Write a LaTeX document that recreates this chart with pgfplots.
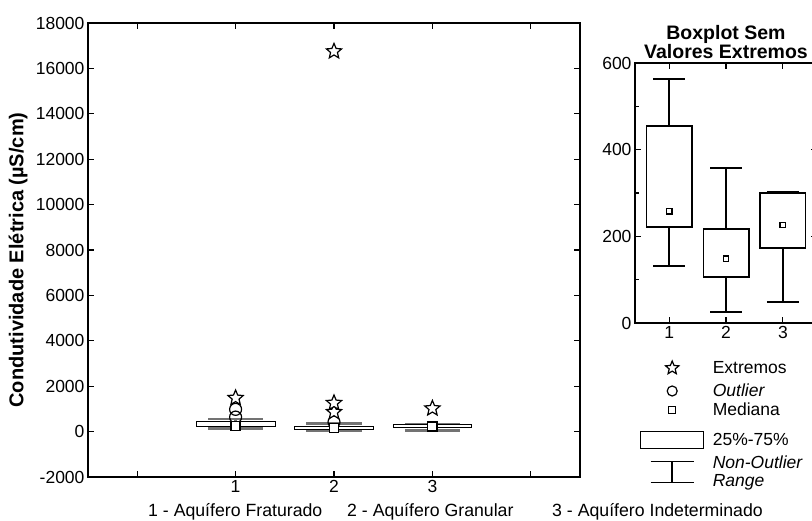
\documentclass[border=0pt]{standalone}
\usepackage{fontspec}
\setmainfont{Liberation Sans}
\usepackage{pgfplots}
\pgfplotsset{compat=1.18}
\pgfdeclareplotmark{ostar}{%
  \pgfpathmoveto{\pgfqpoint{0pt}{\pgfplotmarksize}}%
  \pgfpathlineto{\pgfqpoint{-0.2645\pgfplotmarksize}{0.364\pgfplotmarksize}}%
  \pgfpathlineto{\pgfqpoint{-0.951\pgfplotmarksize}{0.309\pgfplotmarksize}}%
  \pgfpathlineto{\pgfqpoint{-0.428\pgfplotmarksize}{-0.139\pgfplotmarksize}}%
  \pgfpathlineto{\pgfqpoint{-0.588\pgfplotmarksize}{-0.809\pgfplotmarksize}}%
  \pgfpathlineto{\pgfqpoint{0pt}{-0.45\pgfplotmarksize}}%
  \pgfpathlineto{\pgfqpoint{0.588\pgfplotmarksize}{-0.809\pgfplotmarksize}}%
  \pgfpathlineto{\pgfqpoint{0.428\pgfplotmarksize}{-0.139\pgfplotmarksize}}%
  \pgfpathlineto{\pgfqpoint{0.951\pgfplotmarksize}{0.309\pgfplotmarksize}}%
  \pgfpathlineto{\pgfqpoint{0.2645\pgfplotmarksize}{0.364\pgfplotmarksize}}%
  \pgfpathclose\pgfusepathqfillstroke}
\newcommand\fs{\fontsize{17.5}{18}\selectfont}
\pgfplotsset{
  mystyle/.style={
    scale only axis, axis line style={line width=2.4pt}, tick style={line width=1.2pt, black},
    major tick length=6pt, minor tick length=4pt,
    tick label style={font=\fs}, /pgf/number format/assume math mode=true,
    /pgf/number format/1000 sep={}, unbounded coords=jump,
  }
}
\begin{document}
\begin{tikzpicture}
\useasboundingbox (0pt,0pt) rectangle (812pt,520pt);
\begin{axis}[mystyle,
  at={(88pt,43pt)}, anchor=south west, width=492pt, height=454pt,
  xmin=-0.5, xmax=4.5, ymin=-2000, ymax=18000,
  xtick={0,1,2,3,4}, xticklabels={,1,2,3,},
  ytick={-2000,0,2000,4000,6000,8000,10000,12000,14000,16000,18000},
  scaled y ticks=false,
  ylabel={Condutividade Elétrica (µS/cm)},
  ylabel style={font=\fontsize{20}{20}\selectfont\bfseries, at={(axis description cs:-0.142,0.478)}, anchor=center},
]
% whiskers (grey, thick)
\addplot[draw=black!55, line width=2.5pt] coordinates {
 (1,455)(1,563) (1,nan) (0.72,563)(1.28,563) (1,nan) (1,222)(1,132) (1,nan) (0.72,132)(1.28,132)};
\addplot[draw=black!55, line width=2.5pt] coordinates {
 (2,217)(2,358) (2,nan) (1.72,358)(2.28,358) (2,nan) (2,106)(2,25) (2,nan) (1.72,25)(2.28,25)};
\addplot[draw=black!55, line width=2.5pt] coordinates {
 (3,300)(3,302) (3,nan) (2.72,302)(3.28,302) (3,nan) (3,173)(3,48) (3,nan) (2.72,48)(3.28,48)};
% boxes
\addplot[draw=black, fill=white, line width=0.8pt] coordinates {(0.6,222)(1.4,222)(1.4,455)(0.6,455)} -- cycle;
\addplot[draw=black, fill=white, line width=0.8pt] coordinates {(1.6,106)(2.4,106)(2.4,217)(1.6,217)} -- cycle;
\addplot[draw=black, fill=white, line width=0.8pt] coordinates {(2.6,173)(3.4,173)(3.4,300)(2.6,300)} -- cycle;
\addplot[only marks, mark=o, mark size=6pt, line width=1.2pt, mark options={fill=white}] coordinates {(1,640) (1,980) (2,420)};
\addplot[only marks, mark=ostar, mark size=8pt, line width=1.2pt, mark options={fill=white}] coordinates {(1,1480) (2,860) (2,1260) (2,16750) (3,1020)};
\addplot[only marks, mark=square*, mark size=4.5pt, line width=1.2pt, mark options={fill=white}] coordinates {(1,258) (2,148) (3,226)};
\end{axis}
\node[anchor=base west, font=\fontsize{17.7}{18}\selectfont, inner sep=0pt] at (148pt,4pt) {1 - Aquífero Fraturado};
\node[anchor=base west, font=\fontsize{17.7}{18}\selectfont, inner sep=0pt] at (347pt,4pt) {2 - Aquífero Granular};
\node[anchor=base west, font=\fontsize{17.7}{18}\selectfont, inner sep=0pt] at (552pt,4pt) {3 - Aquífero Indeterminado};
\begin{axis}[mystyle,
  at={(635pt,197pt)}, anchor=south west, width=182pt, height=260pt,
  xmin=0.4, xmax=3.6, ymin=0, ymax=600,
  xtick={1,2,3}, ytick={0,200,400,600}, minor ytick={100,300,500},
  axis line style={line width=2pt},
  title={Boxplot Sem\\Valores Extremos},
  title style={align=center, font=\fontsize{19.5}{17}\selectfont\bfseries, yshift=-5pt},
  legend style={at={(0.028,-0.1346)}, anchor=north west, draw=none, fill=none, font=\fs,
    inner sep=0pt, outer sep=0pt, row sep=0pt, column sep=8pt,
    cells={anchor=west, align=left}, nodes={inner sep=0.5pt}},
]
\addplot[forget plot, draw=black, line width=1.5pt] coordinates {
 (1,455)(1,563) (1,nan) (0.72,563)(1.28,563) (1,nan) (1,222)(1,132) (1,nan) (0.72,132)(1.28,132)};
\addplot[forget plot, draw=black, line width=1.5pt] coordinates {
 (2,217)(2,358) (2,nan) (1.72,358)(2.28,358) (2,nan) (2,106)(2,25) (2,nan) (1.72,25)(2.28,25)};
\addplot[forget plot, draw=black, line width=1.5pt] coordinates {
 (3,300)(3,302) (3,nan) (2.72,302)(3.28,302) (3,nan) (3,173)(3,48) (3,nan) (2.72,48)(3.28,48)};
\addplot[forget plot, draw=black, fill=white, line width=1.5pt] coordinates {(0.6,222)(1.4,222)(1.4,455)(0.6,455)} -- cycle;
\addplot[forget plot, draw=black, fill=white, line width=1.5pt] coordinates {(1.6,106)(2.4,106)(2.4,217)(1.6,217)} -- cycle;
\addplot[forget plot, draw=black, fill=white, line width=1.5pt] coordinates {(2.6,173)(3.4,173)(3.4,300)(2.6,300)} -- cycle;
\addplot[forget plot, only marks, mark=square*, mark size=2.8pt, line width=1.2pt, mark options={fill=white}] coordinates {(1,258) (2,148) (3,226)};
\addlegendimage{legend image code/.code={\path[draw=none,fill=none] (0pt,-11.5pt) rectangle (63pt,10pt); \draw[line width=1.2pt, fill=white, mark=ostar, mark size=7pt] plot[only marks] coordinates {(31.5pt,0pt)};}}
\addlegendentry{Extremos}
\addlegendimage{legend image code/.code={\path[draw=none,fill=none] (0pt,-9.5pt) rectangle (63pt,11.5pt); \draw[line width=1.2pt, fill=white, mark=o, mark size=5pt] plot[only marks] coordinates {(31.5pt,0pt)};}}
\addlegendentry{\itshape Outlier}
\addlegendimage{legend image code/.code={\path[draw=none,fill=none] (0pt,-15pt) rectangle (63pt,9.5pt); \draw[line width=1.2pt, fill=white, mark=square*, mark size=3.5pt] plot[only marks] coordinates {(31.5pt,0pt)};}}
\addlegendentry{Mediana}
\addlegendimage{legend image code/.code={\path[draw=none,fill=none] (0pt,-15pt) rectangle (63pt,15pt); \draw[line width=1.2pt, fill=white] (0pt,-8.5pt) rectangle (63pt,8.5pt);}}
\addlegendentry{25\%-75\%}
\addlegendimage{legend image code/.code={\path[draw=none,fill=none] (0pt,-17pt) rectangle (63pt,17pt); \draw[line width=1.5pt] (10pt,10.5pt) -- (53pt,10.5pt) (10pt,-10.5pt) -- (53pt,-10.5pt) (31.5pt,10.5pt) -- (31.5pt,-10.5pt);}}
\addlegendentry{\itshape Non-Outlier\\\itshape Range}
\end{axis}
\end{tikzpicture}
\end{document}
